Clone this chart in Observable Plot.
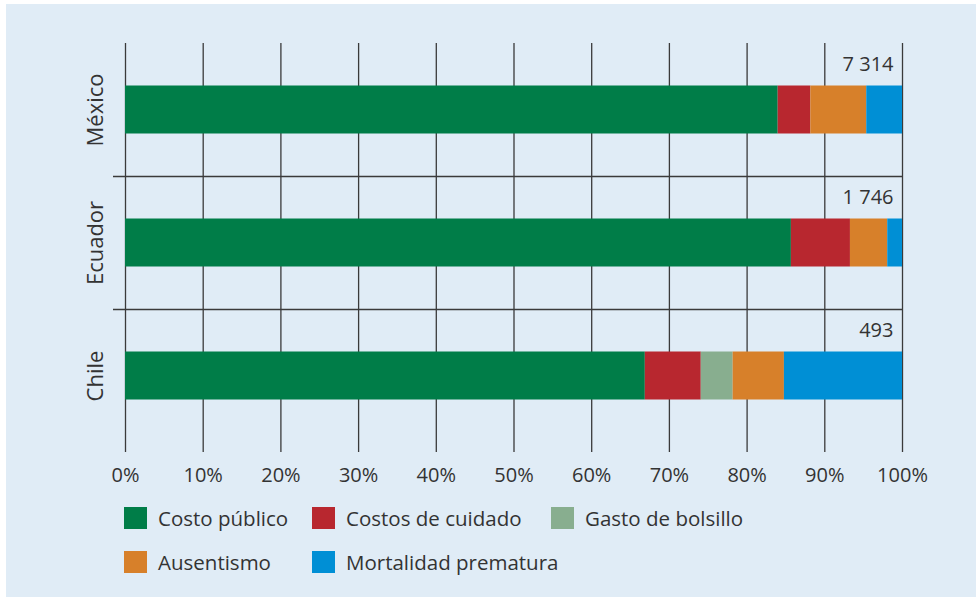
<!DOCTYPE html>
<html><head><meta charset="utf-8">
<script src="https://cdn.jsdelivr.net/npm/d3@7"></script>
<script src="https://cdn.jsdelivr.net/npm/@observablehq/plot@0.6"></script>
<style>
body{margin:0;background:#fff;font-family:"Open Sans",sans-serif;}
#panel{position:absolute;left:6px;top:4px;width:970px;height:593px;background:#e0ecf6;}
#chart{position:absolute;left:0;top:0;}
#legend{position:absolute;left:118px;top:503px;display:grid;grid-template-columns:188px 239px 220px;row-gap:22px;}
.item{display:flex;align-items:center;height:22px;font-size:20.5px;color:#333;white-space:nowrap;}
.sw{width:23px;height:22px;margin-right:11px;flex:none;}
</style></head><body><div id="panel"><div id="chart"></div><div id="legend"></div></div>
<script>
const countries = ["México", "Ecuador", "Chile"];
const totals = ["7 314", "1 746", "493"];
const categories = ["Costo público", "Costos de cuidado", "Gasto de bolsillo", "Ausentismo", "Mortalidad prematura"];
const colors = ["#007d48", "#b8272f", "#88ae8f", "#d7802a", "#008fd5"];
const costoPublico = [84.0, 85.7, 66.9];
const costosCuidado = [4.2, 7.6, 7.2];
const gastoBolsillo = [0, 0, 4.1];
const ausentismo = [7.2, 4.8, 6.6];
const mortalidad = [4.6, 1.9, 15.2];
const tickValues = [0, 10, 20, 30, 40, 50, 60, 70, 80, 90, 100];

const series = [costoPublico, costosCuidado, gastoBolsillo, ausentismo, mortalidad];
const table = [];
countries.forEach((c, i) => series.forEach((s, k) => table.push({country: c, category: categories[k], value: s[i]})));

const lineColor = "#3a3a3a";
const chart = Plot.plot({
  width: 970, height: 490,
  marginLeft: 119, marginRight: 74, marginTop: 39, marginBottom: 52,
  style: {background: "transparent", fontFamily: "'Open Sans', sans-serif", fontSize: "19px", color: "#333"},
  x: {domain: [0, 100], axis: null, label: null},
  y: {domain: countries, padding: 0, axis: null, label: null},
  color: {domain: categories, range: colors},
  marks: [
    Plot.ruleX(tickValues, {stroke: lineColor, strokeWidth: 1.3}),
    Plot.ruleY(countries.slice(1), {y: d => d, dy: -66.5, insetLeft: -12, stroke: lineColor, strokeWidth: 1.3}),
    Plot.barX(table, {x: "value", y: "country", fill: "category", order: categories, insetTop: 42.5, insetBottom: 42.5}),
    Plot.axisX(tickValues, {tickSize: 10, tickPadding: 15, tickFormat: d => d + "%", fontSize: 20, stroke: lineColor, strokeWidth: 1.3, fill: "#333", label: null}),
    Plot.text(countries, {x: () => 100, y: d => d, text: (d, i) => totals[i], textAnchor: "end", dx: -9, dy: -45, fontSize: 20, fill: "#333"}),
    Plot.text(countries, {y: d => d, text: d => d, frameAnchor: "left", textAnchor: "middle", lineAnchor: "middle", rotate: -90, dx: -30, fontSize: 22, fill: "#333"})
  ]
});
document.getElementById("chart").appendChild(chart);

const legend = document.getElementById("legend");
categories.forEach((name, k) => {
  const it = document.createElement("div");
  it.className = "item";
  const sw = document.createElement("span");
  sw.className = "sw";
  sw.style.background = colors[k];
  it.appendChild(sw);
  it.appendChild(document.createTextNode(name));
  legend.appendChild(it);
});
</script></body></html>
